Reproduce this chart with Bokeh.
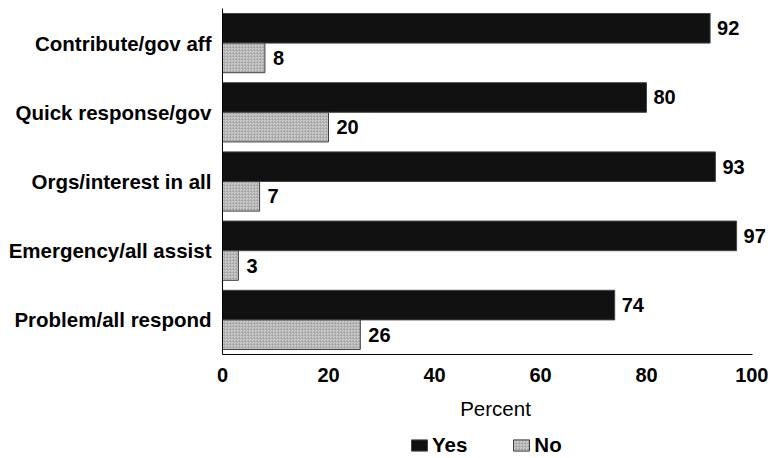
from bokeh.plotting import figure
from bokeh.layouts import column
from bokeh.models import ColumnDataSource, FactorRange, Range1d, Legend, LegendItem
from bokeh.transform import dodge
from bokeh.core.properties import value
from bokeh.embed import file_html
from bokeh.resources import INLINE

categories = ["Contribute/gov aff", "Quick response/gov", "Orgs/interest in all",
              "Emergency/all assist", "Problem/all respond"]
yes_vals = [92, 80, 93, 97, 74]
no_vals = [8, 20, 7, 3, 26]
x_ticks = [0, 20, 40, 60, 80, 100]
series_names = ["Yes", "No"]

FONT = "Liberation Sans"
YES_STYLE = dict(fill_color="#111111", line_color="#444444", line_width=1)
NO_STYLE = dict(fill_color="#d2d2d2", line_color="#404040", line_width=1,
                hatch_pattern="criss_cross", hatch_color="#9a9a9a", hatch_scale=3,
                hatch_weight=0.6, hatch_alpha=0.8)

src = ColumnDataSource(dict(
    cat=categories,
    yes=yes_vals,
    no=no_vals,
    yes_lbl=[str(v) for v in yes_vals],
    no_lbl=[str(v) for v in no_vals],
))

W = 768
LEFT = 222
PX_PER_UNIT = 5.3
x_end = (W - LEFT) / PX_PER_UNIT

p = figure(width=W, height=425,
           y_range=FactorRange(factors=categories[::-1]),
           x_range=Range1d(0, x_end),
           output_backend="svg", toolbar_location=None,
           min_border_left=LEFT, min_border_right=0, min_border_top=8,
           min_border_bottom=71)

p.outline_line_color = None
p.xgrid.grid_line_color = None
p.ygrid.grid_line_color = None

bh = 0.428
p.hbar(y=dodge("cat", bh / 2, range=p.y_range), right="yes", left=0, height=bh,
       source=src, **YES_STYLE)
p.hbar(y=dodge("cat", -bh / 2, range=p.y_range), right="no", left=0, height=bh,
       source=src, **NO_STYLE)

p.text(x="yes", y=dodge("cat", bh / 2, range=p.y_range), text="yes_lbl", source=src,
       x_offset=7, text_align="left", text_baseline="middle",
       text_font=value(FONT), text_font_style="bold", text_font_size="20px",
       text_color="#000000")
p.text(x="no", y=dodge("cat", -bh / 2, range=p.y_range), text="no_lbl", source=src,
       x_offset=8, text_align="left", text_baseline="middle",
       text_font=value(FONT), text_font_style="bold", text_font_size="20px",
       text_color="#000000")

# axes
xa = p.xaxis[0]
xa.ticker = x_ticks
xa.bounds = (0, 100)
xa.axis_line_color = "#000000"
xa.axis_line_width = 1
xa.major_tick_line_color = None
xa.minor_tick_line_color = None
xa.major_tick_out = 0
xa.major_tick_in = 0
xa.major_label_standoff = 13
xa.major_label_text_font = FONT
xa.major_label_text_font_style = "bold"
xa.major_label_text_font_size = "20px"
xa.major_label_text_color = "#000000"
xa.axis_label = "Percent"
xa.axis_label_text_font = FONT
xa.axis_label_text_font_style = "normal"
xa.axis_label_text_font_size = "20.5px"
xa.axis_label_text_color = "#000000"
xa.axis_label_standoff = 12

ya = p.yaxis[0]
ya.axis_line_color = "#000000"
ya.axis_line_width = 1
ya.major_tick_line_color = None
ya.minor_tick_line_color = None
ya.major_tick_out = 0
ya.major_tick_in = 0
ya.major_label_standoff = 11
ya.major_label_text_font = FONT
ya.major_label_text_font_style = "bold"
ya.major_label_text_font_size = "20.5px"
ya.major_label_text_color = "#000000"

# legend strip below the chart (dummy bars lie outside its visible range)
pl = figure(width=W, height=33, x_range=Range1d(0, 1), y_range=Range1d(0, 1),
            output_backend="svg", toolbar_location=None,
            x_axis_location=None, y_axis_location=None,
            min_border_left=0, min_border_right=0, min_border_top=0, min_border_bottom=0)
pl.outline_line_color = None
pl.background_fill_color = None
pl.border_fill_color = None
pl.xgrid.grid_line_color = None
pl.ygrid.grid_line_color = None
ly = pl.hbar(y=[50], right=[60], left=50, height=0.1, **YES_STYLE)
ln = pl.hbar(y=[50], right=[60], left=50, height=0.1, **NO_STYLE)

legend = Legend(items=[LegendItem(label=series_names[0], renderers=[ly]),
                       LegendItem(label=series_names[1], renderers=[ln])],
                orientation="horizontal", location=(187, 1))
legend.glyph_width = 20
legend.glyph_height = 14
legend.label_standoff = 3
legend.spacing = 44
legend.padding = 0
legend.margin = 0
legend.border_line_color = None
legend.background_fill_alpha = 0
legend.label_text_font = FONT
legend.label_text_font_style = "bold"
legend.label_text_font_size = "20.5px"
legend.label_text_color = "#000000"
pl.add_layout(legend, "center")

layout = column(p, pl, spacing=0)
open("out.html", "w").write(file_html(layout, INLINE))
